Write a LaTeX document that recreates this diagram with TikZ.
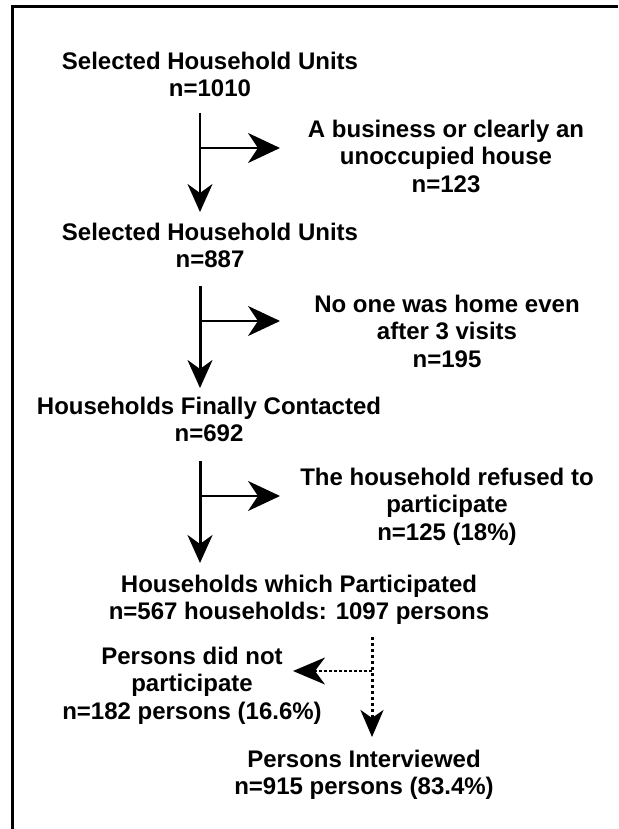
\documentclass[tikz,border=0pt]{standalone}
\usepackage{fontspec}
\setmainfont{Liberation Sans}
\usetikzlibrary{arrows.meta}
\begin{document}
\begin{tikzpicture}[x=1pt,y=-1pt,
  lbl/.style={inner sep=0pt, anchor=north, align=center, font=\bfseries\fontsize{24}{27.5}\selectfont},
  lbltight/.style={lbl, font=\bfseries\fontsize{24}{25}\selectfont},
  downarrow/.style={line width=#1, -{Stealth[length=28pt,width=25pt,inset=9pt]}},
  sidearrow/.style={line width=2pt, -{Stealth[length=32pt,width=30pt,inset=10pt]}},
  dotdown/.style={line width=3pt, dash pattern=on 3pt off 3pt, -{Stealth[length=27pt,width=23pt,inset=8pt]}},
  dotside/.style={line width=2pt, dash pattern=on 3pt off 2pt, -{Stealth[length=32pt,width=27pt,inset=10pt]}},
  frame/.style={line width=3pt}
]
\useasboundingbox (0,0) rectangle (618,829);
\draw[frame] (618,6.5) -- (12.5,6.5) -- (12.5,829);

\node[lbl] (t1) at (210,51.5) {Selected Household Units\\n=1010};
\node[lbl] (e1) at (446,119.5) {A business or clearly an\\unoccupied house\\n=123};
\node[lbl] (t2) at (210,222.5) {Selected Household Units\\n=887};
\node[lbl] (e2) at (447,294.5) {No one was home even\\after 3 visits\\n=195};
\node[lbl] (t3) at (209,396.5) {Households Finally Contacted\\n=692};
\node[lbl] (e3) at (447,467.5) {The household refused to\\participate\\n=125 (18\%)};
\node[lbl] (t4) at (299,574.5) {Households which Participated\\n=567 households: 1097 persons};
\node[lbl] (e4) at (192,646.5) {Persons did not\\participate\\n=182 persons (16.6\%)};
\node[lbl] (t5) at (364,749.5) {Persons Interviewed\\n=915 persons (83.4\%)};

% spine coordinates
\coordinate (s1a) at (200,113);
\coordinate (s1b) at (200,212);
\coordinate (b1) at (200,148);
\coordinate (b1t) at (280,148);
\coordinate (s2a) at (200,286);
\coordinate (s2b) at (200,388);
\coordinate (b2) at (200,321);
\coordinate (b2t) at (280,321);
\coordinate (s3a) at (200,461);
\coordinate (s3b) at (200,563);
\coordinate (b3) at (200,496);
\coordinate (b3t) at (280,496);
\coordinate (s4a) at (372,637);
\coordinate (s4b) at (372,737);
\coordinate (b4) at (372,671);
\coordinate (b4t) at (293,671);

\draw[downarrow=2pt] (s1a) -- (s1b);
\draw[sidearrow] (b1) -- (b1t);
\draw[downarrow=3pt] (s2a) -- (s2b);
\draw[sidearrow] (b2) -- (b2t);
\draw[downarrow=3pt] (s3a) -- (s3b);
\draw[sidearrow] (b3) -- (b3t);
\draw[dotdown] (s4a) -- (s4b);
\draw[dotside] (b4) -- (b4t);
\end{tikzpicture}
\end{document}
